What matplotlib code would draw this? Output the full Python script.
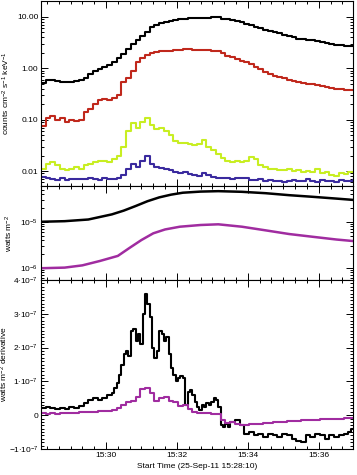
import numpy as np
import matplotlib
matplotlib.use("Agg")
import matplotlib.pyplot as plt
from matplotlib.ticker import MultipleLocator, FixedLocator, FuncFormatter, LogLocator, NullFormatter

plt.rcParams['font.family'] = ['Liberation Sans', 'DejaVu Sans']
plt.rcParams['mathtext.fontset'] = 'custom'
plt.rcParams['mathtext.rm'] = 'Liberation Sans'
plt.rcParams['mathtext.it'] = 'Liberation Sans'
plt.rcParams['mathtext.default'] = 'regular'

# ---- data (time in seconds after 15:28:10) ----
start_label = "Start Time (25-Sep-11 15:28:10)"
start_sec = 15 * 3600 + 28 * 60 + 10

t_counts = [8 * k for k in range(67)]
counts_black = [0.52, 0.58, 0.60, 0.56, 0.55, 0.53, 0.55, 0.56, 0.58, 0.66, 0.78, 0.90, 0.98, 1.05, 1.15, 1.35,
                1.6, 1.9, 2.4, 3.0, 3.6, 4.3, 5.2, 6.3, 7.0, 7.6, 8.0, 8.4, 8.7, 9.0, 9.2, 9.4, 9.5, 9.6,
                9.7, 9.7, 9.8, 9.8, 9.3, 9.0, 8.8, 8.2, 7.8, 7.3, 6.9, 6.5, 6.0, 5.6, 5.3, 5.0, 4.8, 4.5,
                4.2, 4.0, 3.8, 3.7, 3.6, 3.5, 3.4, 3.2, 3.1, 3.0, 2.9, 2.8, 2.75, 2.7, 2.7]
counts_red = [0.075, 0.11, 0.12, 0.10, 0.11, 0.09, 0.10, 0.095, 0.10, 0.14, 0.16, 0.20, 0.24, 0.25, 0.24, 0.26,
              0.30, 0.55, 0.65, 0.90, 1.3, 1.6, 1.85, 2.0, 2.1, 2.15, 2.2, 2.2, 2.25, 2.3, 2.35, 2.35, 2.3,
              2.3, 2.25, 2.25, 2.2, 2.15, 1.95, 1.75, 1.65, 1.5, 1.4, 1.3, 1.2, 1.05, 0.95, 0.85, 0.78,
              0.72, 0.68, 0.64, 0.60, 0.57, 0.55, 0.52, 0.50, 0.49, 0.47, 0.45, 0.43, 0.42, 0.40, 0.39,
              0.38, 0.38, 0.38]
counts_green = [0.011, 0.014, 0.015, 0.013, 0.011, 0.0105, 0.011, 0.012, 0.011, 0.013, 0.014, 0.015, 0.016,
                0.016, 0.015, 0.017, 0.020, 0.030, 0.060, 0.085, 0.070, 0.090, 0.110, 0.080, 0.065, 0.070,
                0.060, 0.050, 0.038, 0.035, 0.036, 0.034, 0.032, 0.033, 0.040, 0.030, 0.026, 0.022, 0.018,
                0.016, 0.015, 0.016, 0.015, 0.016, 0.019, 0.017, 0.013, 0.012, 0.011, 0.011, 0.0105, 0.0105,
                0.011, 0.010, 0.0105, 0.0095, 0.010, 0.0098, 0.011, 0.0092, 0.0095, 0.0085, 0.0082, 0.009,
                0.0088, 0.0095, 0.0095]
counts_blue = [0.0078, 0.0072, 0.0070, 0.0068, 0.0072, 0.0068, 0.0070, 0.0069, 0.0071, 0.0070, 0.0074, 0.0070,
               0.0068, 0.0072, 0.0070, 0.0071, 0.0072, 0.0085, 0.011, 0.014, 0.012, 0.016, 0.020, 0.014,
               0.012, 0.0115, 0.011, 0.0105, 0.0095, 0.009, 0.0095, 0.0088, 0.0085, 0.0082, 0.009, 0.0085,
               0.0078, 0.0074, 0.0072, 0.0072, 0.0070, 0.0072, 0.0074, 0.0072, 0.0068, 0.0066, 0.0070,
               0.0064, 0.0066, 0.0063, 0.0065, 0.0062, 0.0064, 0.0066, 0.0063, 0.0065, 0.0070, 0.0064,
               0.0062, 0.0066, 0.0063, 0.0065, 0.0062, 0.0066, 0.0064, 0.0065, 0.0066]

t_goes = [0, 40, 80, 120, 140, 160, 180, 200, 220, 240, 270, 300, 340, 380, 420, 460, 500, 528]
goes_long = [1.0e-5, 1.03e-5, 1.12e-5, 1.45e-5, 1.75e-5, 2.2e-5, 2.8e-5, 3.4e-5, 3.9e-5, 4.3e-5, 4.55e-5,
             4.65e-5, 4.5e-5, 4.2e-5, 3.8e-5, 3.5e-5, 3.2e-5, 3.0e-5]
t_goes_s = [0, 40, 70, 100, 130, 150, 170, 190, 210, 235, 270, 300, 340, 380, 420, 460, 500, 528]
goes_short = [9.7e-7, 1.0e-6, 1.12e-6, 1.4e-6, 1.8e-6, 2.7e-6, 4.0e-6, 5.6e-6, 6.8e-6, 7.8e-6, 8.5e-6,
              8.8e-6, 7.8e-6, 6.5e-6, 5.4e-6, 4.7e-6, 4.1e-6, 3.8e-6]

t_deriv_long = [0, 8, 16, 24, 32, 40, 48, 56, 64, 72, 80, 88, 96, 104, 112, 120, 124, 128, 132, 136, 140,
                144, 148, 152, 156, 160, 164, 168, 172, 176, 180, 184, 188, 192, 196, 200, 204, 208, 212,
                216, 220, 224, 228, 232, 236, 240, 244, 248, 252, 256, 260, 264, 268, 272, 276, 280, 284,
                288, 292, 296, 300, 304, 308, 312, 316, 320, 328, 336, 344, 352, 360, 368, 376, 384, 392,
                400, 408, 416, 424, 432, 440, 448, 456, 464, 472, 480, 488, 496, 504, 512, 520, 524, 528]
deriv_long = [0.20, 0.25, 0.20, 0.18, 0.22, 0.18, 0.25, 0.22, 0.28, 0.35, 0.45, 0.52, 0.45, 0.50, 0.60, 0.65,
              0.80, 0.95, 1.2, 1.5, 1.8, 1.9, 1.75, 2.5, 2.55, 2.2, 2.4, 2.1, 3.0, 3.6, 3.3, 2.9, 2.0, 1.7,
              1.9, 2.5, 2.4, 2.2, 2.3, 1.8, 1.4, 1.2, 1.0, 1.1, 1.15, 1.1, 0.3, 0.7, 0.75, 0.6, 0.4, 0.25,
              0.15, 0.3, 0.25, 0.35, 0.3, 0.4, 0.5, 0.45, 0.25, -0.3, -0.35, -0.25, -0.35, -0.2, -0.15,
              -0.3, -0.55, -0.5, -0.6, -0.55, -0.65, -0.55, -0.6, -0.65, -0.55, -0.6, -0.7, -0.75, -0.8,
              -0.6, -0.65, -0.55, -0.6, -0.7, -0.6, -0.65, -0.6, -0.55, -0.5, -0.4, -0.4]
t_deriv_short = [8 * k for k in range(67)]
deriv_short = [0.06, 0.05, 0.06, 0.05, 0.06, 0.06, 0.07, 0.07, 0.08, 0.08, 0.10, 0.10, 0.12, 0.12, 0.13, 0.15,
               0.20, 0.30, 0.38, 0.42, 0.55, 0.78, 0.80, 0.65, 0.42, 0.50, 0.55, 0.42, 0.38, 0.28, 0.30,
               0.18, 0.08, 0.06, 0.07, 0.06, 0.05, 0.05, -0.15, -0.22, -0.20, -0.25, -0.28, -0.30, -0.27,
               -0.25, -0.25, -0.24, -0.22, -0.20, -0.20, -0.20, -0.18, -0.17, -0.16, -0.15, -0.15, -0.14,
               -0.13, -0.12, -0.12, -0.11, -0.10, -0.10, -0.09, -0.08, -0.08]

# ---- figure ----
W, H = 357, 475
fig = plt.figure(figsize=(W / 100, H / 100), dpi=100)

def px_axes(x0, y0, x1, y1):
    return fig.add_axes([x0 / W, 1 - y1 / H, (x1 - x0) / W, (y1 - y0) / H])

ax1 = px_axes(41, 1, 353, 186)
ax2 = px_axes(41, 186, 353, 280)
ax3 = px_axes(41, 280, 353, 449)

lw = 1.5
c_red = '#C0281C'
c_green = '#C8EE22'
c_blue = '#3A2A9E'
c_mag = '#A02CA0'

ax1.step(t_counts, counts_black, where='post', color='black', lw=lw)
ax1.step(t_counts, counts_red, where='post', color=c_red, lw=lw)
ax1.step(t_counts, counts_green, where='post', color=c_green, lw=lw)
ax1.step(t_counts, counts_blue, where='post', color=c_blue, lw=lw)
ax1.set_yscale('log')
ax1.set_ylim(10 ** -2.29, 10 ** 1.31)
ax1.yaxis.set_major_locator(FixedLocator([0.01, 0.1, 1, 10]))
ax1.yaxis.set_major_formatter(FuncFormatter(lambda v, p: f"{v:.2f}"))
ax1.yaxis.set_minor_locator(LogLocator(base=10, subs=np.arange(2, 10)))
ax1.yaxis.set_minor_formatter(NullFormatter())
ax1.set_ylabel(r"counts cm$^{-2}$ s$^{-1}$ keV$^{-1}$", fontsize=6)

ax2.plot(t_goes, goes_long, color='black', lw=1.8)
ax2.plot(t_goes_s, goes_short, color=c_mag, lw=1.8)
ax2.set_yscale('log')
ax2.set_ylim(10 ** -6.27, 10 ** -4.22)
ax2.yaxis.set_major_locator(FixedLocator([1e-6, 1e-5]))
ax2.yaxis.set_major_formatter(FuncFormatter(lambda v, p: r"$10^{%d}$" % int(round(np.log10(v)))))
ax2.yaxis.set_minor_locator(LogLocator(base=10, subs=np.arange(2, 10)))
ax2.yaxis.set_minor_formatter(NullFormatter())
ax2.set_ylabel(r"watts m$^{-2}$", fontsize=6)

scale = 1e-7
ax3.step(t_deriv_long, np.array(deriv_long) * scale, where='post', color='black', lw=lw)
ax3.step(t_deriv_short, np.array(deriv_short) * scale, where='post', color=c_mag, lw=lw)
ax3.set_ylim(-1e-7, 4e-7)
ax3.yaxis.set_major_locator(MultipleLocator(1e-7))
ax3.yaxis.set_minor_locator(MultipleLocator(1e-8))

def deriv_fmt(v, p):
    k = int(round(v / 1e-7))
    if k == 0:
        return "0"
    return r"$%d{\cdot}10^{-7}$" % k

ax3.yaxis.set_major_formatter(FuncFormatter(deriv_fmt))
ax3.set_ylabel(r"watts m$^{-2}$ derivative", fontsize=6)

def time_fmt(v, p):
    s = int(round(start_sec + v))
    return f"{s // 3600:02d}:{(s % 3600) // 60:02d}"

for ax in (ax1, ax2, ax3):
    ax.set_xlim(0, 528)
    ax.xaxis.set_major_locator(MultipleLocator(120, offset=110))
    ax.xaxis.set_minor_locator(MultipleLocator(20, offset=10))
    ax.tick_params(which='both', direction='in', top=True, right=True, labelsize=6, width=0.7, pad=2)
    ax.tick_params(which='major', length=5)
    ax.tick_params(which='minor', length=2.5)
    for sp in ax.spines.values():
        sp.set_linewidth(0.8)

ax1.tick_params(labelbottom=False)
ax2.tick_params(labelbottom=False)
ax3.xaxis.set_major_formatter(FuncFormatter(time_fmt))
ax3.set_xlabel(start_label, fontsize=6, labelpad=3)

ax1.yaxis.set_label_coords(-0.093, 0.5)
ax2.yaxis.set_label_coords(-0.083, 0.5)
ax3.yaxis.set_label_coords(-0.099, 0.5)

fig.savefig("out.png", dpi=100)
